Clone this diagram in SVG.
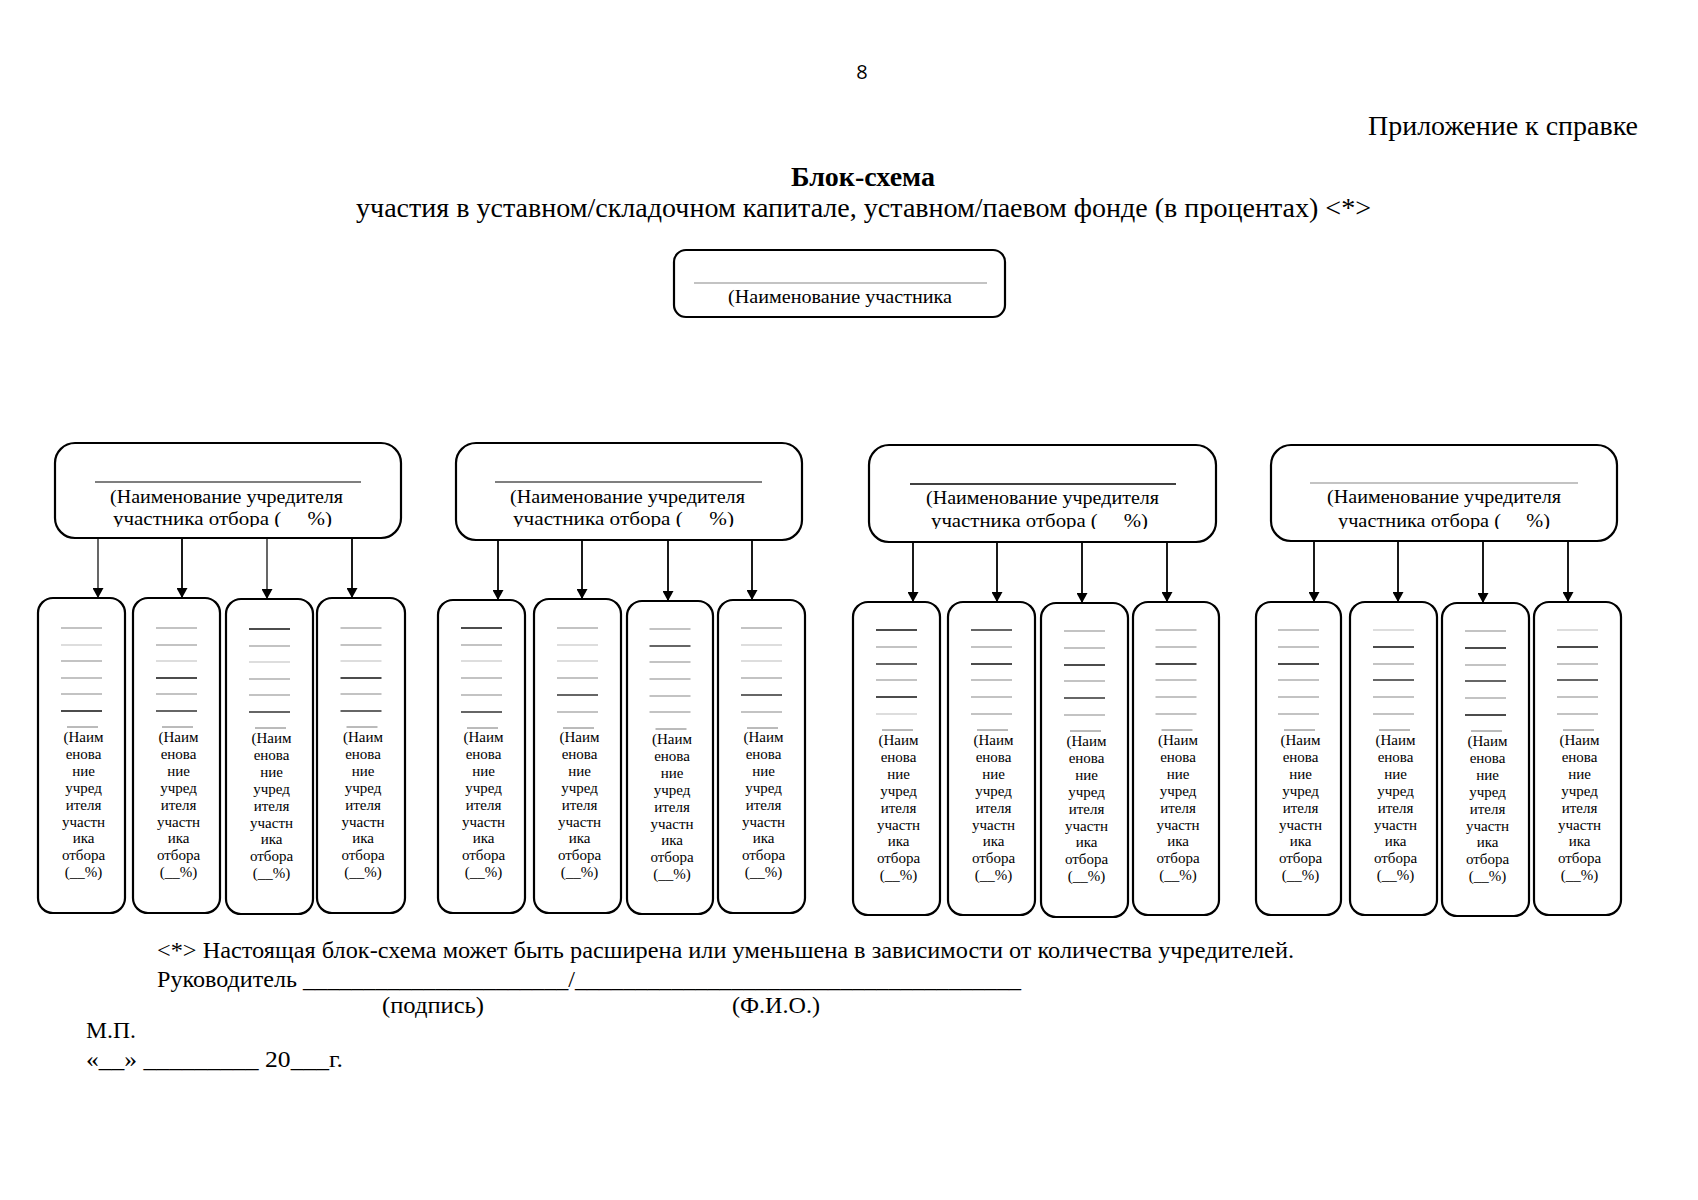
<svg xmlns="http://www.w3.org/2000/svg" width="1698" height="1200" viewBox="0 0 1698 1200">
<defs>
<style>
.t{font-family:"Liberation Serif","Times New Roman",serif;fill:#000}
.box{fill:#fff;stroke:#000;stroke-width:2.2}
.gl{stroke:#888;stroke-width:1.2}
.sm{font-size:15px;text-anchor:middle}
.bt{font-size:18px}
.a{stroke:#111;stroke-width:1.4}
.b{stroke:#888;stroke-width:1.2}
.c{stroke:#bbb;stroke-width:1.2}
.d{stroke:#666;stroke-width:2}
.ov{stroke:#777;stroke-width:1}
#connectors line{stroke:#000;stroke-width:1.8;marker-end:url(#ah)}
</style>
<marker id="ah" markerUnits="userSpaceOnUse" markerWidth="11" markerHeight="11" refX="10" refY="5.5" orient="auto">
<path d="M0,0 L10,5.5 L0,11 z" fill="#000"/>
</marker>
<clipPath id="c1" clipPathUnits="userSpaceOnUse"><rect x="55" y="443" width="346" height="84"/></clipPath>
<clipPath id="c2" clipPathUnits="userSpaceOnUse"><rect x="456" y="443" width="346" height="84"/></clipPath>
<clipPath id="c3" clipPathUnits="userSpaceOnUse"><rect x="869" y="445" width="347" height="84"/></clipPath>
<clipPath id="c4" clipPathUnits="userSpaceOnUse"><rect x="1271" y="445" width="346" height="84"/></clipPath>
</defs>
<rect x="0" y="0" width="1698" height="1200" fill="#fff"/>

<g id="header">
<text x="862" y="79" font-family="'Open Sans','DejaVu Sans',sans-serif" font-size="20" text-anchor="middle">8</text>
<text class="t" x="1368" y="135" font-size="27" textLength="270" lengthAdjust="spacingAndGlyphs">Приложение к справке</text>
<text class="t" x="863" y="186" font-size="28" font-weight="bold" text-anchor="middle">Блок-схема</text>
<text class="t" x="356" y="217" font-size="27" textLength="1015" lengthAdjust="spacingAndGlyphs">участия в уставном/складочном капитале, уставном/паевом фонде (в процентах) &lt;*&gt;</text>
</g>

<g id="participant">
<rect class="box" x="674" y="250" width="331" height="67" rx="12"/>
<line class="gl" x1="694" y1="283" x2="987" y2="283"/>
<text class="t bt" x="728" y="303" textLength="224" lengthAdjust="spacingAndGlyphs">(Наименование участника</text>
</g>

<g id="founder1">
<rect class="box" x="55" y="443" width="346" height="95" rx="20"/>
<line x1="95" y1="482" x2="361" y2="482" stroke="#000" stroke-width="1.2"/>
<text class="t bt" x="110" y="503" textLength="233" lengthAdjust="spacingAndGlyphs">(Наименование учредителя</text>
<text class="t bt" x="113" y="525" textLength="219" lengthAdjust="spacingAndGlyphs" clip-path="url(#c1)">участника отбора (&#160;&#160;&#160;&#160;&#160;%)</text>
</g>
<g id="founder2">
<rect class="box" x="456" y="443" width="346" height="97" rx="20"/>
<line x1="495" y1="482" x2="762" y2="482" stroke="#000" stroke-width="1.2"/>
<text class="t bt" x="510" y="503" textLength="235" lengthAdjust="spacingAndGlyphs">(Наименование учредителя</text>
<text class="t bt" x="513" y="525" textLength="221" lengthAdjust="spacingAndGlyphs" clip-path="url(#c2)">участника отбора (&#160;&#160;&#160;&#160;&#160;%)</text>
</g>
<g id="founder3">
<rect class="box" x="869" y="445" width="347" height="97" rx="20"/>
<line x1="910" y1="484" x2="1176" y2="484" stroke="#000" stroke-width="1.4"/>
<text class="t bt" x="926" y="504" textLength="233" lengthAdjust="spacingAndGlyphs">(Наименование учредителя</text>
<text class="t bt" x="931" y="527" textLength="217" lengthAdjust="spacingAndGlyphs" clip-path="url(#c3)">участника отбора (&#160;&#160;&#160;&#160;&#160;%)</text>
</g>
<g id="founder4">
<rect class="box" x="1271" y="445" width="346" height="96" rx="20"/>
<line class="gl" x1="1310" y1="483" x2="1578" y2="483"/>
<text class="t bt" x="1327" y="503" textLength="234" lengthAdjust="spacingAndGlyphs">(Наименование учредителя</text>
<text class="t bt" x="1338" y="527" textLength="212" lengthAdjust="spacingAndGlyphs" clip-path="url(#c4)">участника отбора (&#160;&#160;&#160;&#160;&#160;%)</text>
</g>

<g id="connectors">
<line x1="98" y1="538" x2="98" y2="598" style="stroke-width:1.2"/>
<line x1="182" y1="538" x2="182" y2="598"/>
<line x1="267" y1="538" x2="267" y2="599" style="stroke-width:1.2"/>
<line x1="352" y1="538" x2="352" y2="598"/>
<line x1="498" y1="540" x2="498" y2="600"/>
<line x1="582" y1="540" x2="582" y2="599"/>
<line x1="668" y1="540" x2="668" y2="601"/>
<line x1="752" y1="540" x2="752" y2="600"/>
<line x1="913" y1="542" x2="913" y2="602"/>
<line x1="997" y1="542" x2="997" y2="602"/>
<line x1="1082" y1="542" x2="1082" y2="603"/>
<line x1="1167" y1="542" x2="1167" y2="602"/>
<line x1="1314" y1="541" x2="1314" y2="602"/>
<line x1="1398" y1="541" x2="1398" y2="602"/>
<line x1="1483" y1="541" x2="1483" y2="603"/>
<line x1="1568" y1="541" x2="1568" y2="602"/>
</g>

<!-- group 1 sub boxes -->
<g id="g1b1">
<rect class="box" x="38" y="598" width="87" height="315" rx="15"/>
<line class="b" x1="61" y1="628" x2="102" y2="628"/><line class="c" x1="61" y1="645" x2="102" y2="645"/><line class="b" x1="61" y1="661" x2="102" y2="661"/><line class="b" x1="61" y1="678" x2="102" y2="678"/><line class="b" x1="61" y1="694" x2="102" y2="694"/><line class="a" x1="61" y1="711" x2="102" y2="711"/>
<line class="ov" x1="67" y1="727" x2="98" y2="727"/>
<text class="t sm" y="742"><tspan x="83.5">(Наим</tspan><tspan x="83.5" dy="16.9">енова</tspan><tspan x="83.5" dy="16.9">ние</tspan><tspan x="83.5" dy="16.9">учред</tspan><tspan x="83.5" dy="16.9">ителя</tspan><tspan x="83.5" dy="16.9">участн</tspan><tspan x="83.5" dy="16.9">ика</tspan><tspan x="83.5" dy="16.9">отбора</tspan><tspan x="83.5" dy="16.9">(__%)</tspan></text>
</g>
<g id="g1b2">
<rect class="box" x="133" y="598" width="87" height="315" rx="15"/>
<line class="b" x1="156" y1="628" x2="197" y2="628"/><line class="b" x1="156" y1="645" x2="197" y2="645"/><line class="c" x1="156" y1="661" x2="197" y2="661"/><line class="a" x1="156" y1="678" x2="197" y2="678"/><line class="b" x1="156" y1="694" x2="197" y2="694"/><line class="d" x1="156" y1="711" x2="197" y2="711"/>
<line class="ov" x1="162" y1="727" x2="193" y2="727"/>
<text class="t sm" y="742"><tspan x="178.5">(Наим</tspan><tspan x="178.5" dy="16.9">енова</tspan><tspan x="178.5" dy="16.9">ние</tspan><tspan x="178.5" dy="16.9">учред</tspan><tspan x="178.5" dy="16.9">ителя</tspan><tspan x="178.5" dy="16.9">участн</tspan><tspan x="178.5" dy="16.9">ика</tspan><tspan x="178.5" dy="16.9">отбора</tspan><tspan x="178.5" dy="16.9">(__%)</tspan></text>
</g>
<g id="g1b3">
<rect class="box" x="226" y="599" width="87" height="315" rx="15"/>
<line class="a" x1="249" y1="629" x2="290" y2="629"/><line class="b" x1="249" y1="646" x2="290" y2="646"/><line class="c" x1="249" y1="662" x2="290" y2="662"/><line class="b" x1="249" y1="679" x2="290" y2="679"/><line class="b" x1="249" y1="695" x2="290" y2="695"/><line class="d" x1="249" y1="712" x2="290" y2="712"/>
<line class="ov" x1="255" y1="728" x2="286" y2="728"/>
<text class="t sm" y="743"><tspan x="271.5">(Наим</tspan><tspan x="271.5" dy="16.9">енова</tspan><tspan x="271.5" dy="16.9">ние</tspan><tspan x="271.5" dy="16.9">учред</tspan><tspan x="271.5" dy="16.9">ителя</tspan><tspan x="271.5" dy="16.9">участн</tspan><tspan x="271.5" dy="16.9">ика</tspan><tspan x="271.5" dy="16.9">отбора</tspan><tspan x="271.5" dy="16.9">(__%)</tspan></text>
</g>
<g id="g1b4">
<rect class="box" x="317" y="598" width="88" height="315" rx="15"/>
<line class="b" x1="340.5" y1="628" x2="381.5" y2="628"/><line class="b" x1="340.5" y1="645" x2="381.5" y2="645"/><line class="c" x1="340.5" y1="661" x2="381.5" y2="661"/><line class="a" x1="340.5" y1="678" x2="381.5" y2="678"/><line class="b" x1="340.5" y1="694" x2="381.5" y2="694"/><line class="d" x1="340.5" y1="711" x2="381.5" y2="711"/>
<line class="ov" x1="346.5" y1="727" x2="377.5" y2="727"/>
<text class="t sm" y="742"><tspan x="363">(Наим</tspan><tspan x="363" dy="16.9">енова</tspan><tspan x="363" dy="16.9">ние</tspan><tspan x="363" dy="16.9">учред</tspan><tspan x="363" dy="16.9">ителя</tspan><tspan x="363" dy="16.9">участн</tspan><tspan x="363" dy="16.9">ика</tspan><tspan x="363" dy="16.9">отбора</tspan><tspan x="363" dy="16.9">(__%)</tspan></text>
</g>

<!-- group 2 sub boxes -->
<g id="g2b1">
<rect class="box" x="438" y="600" width="87" height="313" rx="15"/>
<line class="a" x1="461" y1="628" x2="502" y2="628"/><line class="b" x1="461" y1="645" x2="502" y2="645"/><line class="c" x1="461" y1="661" x2="502" y2="661"/><line class="b" x1="461" y1="678" x2="502" y2="678"/><line class="b" x1="461" y1="695" x2="502" y2="695"/><line class="d" x1="461" y1="712" x2="502" y2="712"/>
<line class="ov" x1="467" y1="728" x2="498" y2="728"/>
<text class="t sm" y="742"><tspan x="483.5">(Наим</tspan><tspan x="483.5" dy="16.9">енова</tspan><tspan x="483.5" dy="16.9">ние</tspan><tspan x="483.5" dy="16.9">учред</tspan><tspan x="483.5" dy="16.9">ителя</tspan><tspan x="483.5" dy="16.9">участн</tspan><tspan x="483.5" dy="16.9">ика</tspan><tspan x="483.5" dy="16.9">отбора</tspan><tspan x="483.5" dy="16.9">(__%)</tspan></text>
</g>
<g id="g2b2">
<rect class="box" x="534" y="599" width="87" height="314" rx="15"/>
<line class="b" x1="557" y1="628" x2="598" y2="628"/><line class="c" x1="557" y1="645" x2="598" y2="645"/><line class="c" x1="557" y1="661" x2="598" y2="661"/><line class="b" x1="557" y1="678" x2="598" y2="678"/><line class="d" x1="557" y1="695" x2="598" y2="695"/><line class="b" x1="557" y1="712" x2="598" y2="712"/>
<line class="ov" x1="563" y1="728" x2="594" y2="728"/>
<text class="t sm" y="742"><tspan x="579.5">(Наим</tspan><tspan x="579.5" dy="16.9">енова</tspan><tspan x="579.5" dy="16.9">ние</tspan><tspan x="579.5" dy="16.9">учред</tspan><tspan x="579.5" dy="16.9">ителя</tspan><tspan x="579.5" dy="16.9">участн</tspan><tspan x="579.5" dy="16.9">ика</tspan><tspan x="579.5" dy="16.9">отбора</tspan><tspan x="579.5" dy="16.9">(__%)</tspan></text>
</g>
<g id="g2b3">
<rect class="box" x="627" y="601" width="86" height="313" rx="15"/>
<line class="b" x1="649.5" y1="629" x2="690.5" y2="629"/><line class="d" x1="649.5" y1="646" x2="690.5" y2="646"/><line class="b" x1="649.5" y1="662" x2="690.5" y2="662"/><line class="b" x1="649.5" y1="679" x2="690.5" y2="679"/><line class="b" x1="649.5" y1="696" x2="690.5" y2="696"/><line class="b" x1="649.5" y1="712" x2="690.5" y2="712"/>
<line class="ov" x1="655.5" y1="729" x2="686.5" y2="729"/>
<text class="t sm" y="744"><tspan x="672">(Наим</tspan><tspan x="672" dy="16.9">енова</tspan><tspan x="672" dy="16.9">ние</tspan><tspan x="672" dy="16.9">учред</tspan><tspan x="672" dy="16.9">ителя</tspan><tspan x="672" dy="16.9">участн</tspan><tspan x="672" dy="16.9">ика</tspan><tspan x="672" dy="16.9">отбора</tspan><tspan x="672" dy="16.9">(__%)</tspan></text>
</g>
<g id="g2b4">
<rect class="box" x="718" y="600" width="87" height="313" rx="15"/>
<line class="b" x1="741" y1="628" x2="782" y2="628"/><line class="c" x1="741" y1="645" x2="782" y2="645"/><line class="c" x1="741" y1="661" x2="782" y2="661"/><line class="b" x1="741" y1="678" x2="782" y2="678"/><line class="d" x1="741" y1="695" x2="782" y2="695"/><line class="b" x1="741" y1="712" x2="782" y2="712"/>
<line class="ov" x1="747" y1="728" x2="778" y2="728"/>
<text class="t sm" y="742"><tspan x="763.5">(Наим</tspan><tspan x="763.5" dy="16.9">енова</tspan><tspan x="763.5" dy="16.9">ние</tspan><tspan x="763.5" dy="16.9">учред</tspan><tspan x="763.5" dy="16.9">ителя</tspan><tspan x="763.5" dy="16.9">участн</tspan><tspan x="763.5" dy="16.9">ика</tspan><tspan x="763.5" dy="16.9">отбора</tspan><tspan x="763.5" dy="16.9">(__%)</tspan></text>
</g>

<!-- group 3 sub boxes -->
<g id="g3b1">
<rect class="box" x="853" y="602" width="87" height="313" rx="15"/>
<line class="a" x1="876" y1="630" x2="917" y2="630"/><line class="b" x1="876" y1="647" x2="917" y2="647"/><line class="d" x1="876" y1="664" x2="917" y2="664"/><line class="b" x1="876" y1="680" x2="917" y2="680"/><line class="a" x1="876" y1="697" x2="917" y2="697"/><line class="c" x1="876" y1="714" x2="917" y2="714"/>
<line class="ov" x1="882" y1="730" x2="913" y2="730"/>
<text class="t sm" y="745"><tspan x="898.5">(Наим</tspan><tspan x="898.5" dy="16.9">енова</tspan><tspan x="898.5" dy="16.9">ние</tspan><tspan x="898.5" dy="16.9">учред</tspan><tspan x="898.5" dy="16.9">ителя</tspan><tspan x="898.5" dy="16.9">участн</tspan><tspan x="898.5" dy="16.9">ика</tspan><tspan x="898.5" dy="16.9">отбора</tspan><tspan x="898.5" dy="16.9">(__%)</tspan></text>
</g>
<g id="g3b2">
<rect class="box" x="948" y="602" width="87" height="313" rx="15"/>
<line class="d" x1="971" y1="630" x2="1012" y2="630"/><line class="b" x1="971" y1="647" x2="1012" y2="647"/><line class="a" x1="971" y1="664" x2="1012" y2="664"/><line class="b" x1="971" y1="680" x2="1012" y2="680"/><line class="b" x1="971" y1="697" x2="1012" y2="697"/><line class="b" x1="971" y1="714" x2="1012" y2="714"/>
<line class="ov" x1="977" y1="730" x2="1008" y2="730"/>
<text class="t sm" y="745"><tspan x="993.5">(Наим</tspan><tspan x="993.5" dy="16.9">енова</tspan><tspan x="993.5" dy="16.9">ние</tspan><tspan x="993.5" dy="16.9">учред</tspan><tspan x="993.5" dy="16.9">ителя</tspan><tspan x="993.5" dy="16.9">участн</tspan><tspan x="993.5" dy="16.9">ика</tspan><tspan x="993.5" dy="16.9">отбора</tspan><tspan x="993.5" dy="16.9">(__%)</tspan></text>
</g>
<g id="g3b3">
<rect class="box" x="1041" y="603" width="87" height="314" rx="15"/>
<line class="b" x1="1064" y1="631" x2="1105" y2="631"/><line class="b" x1="1064" y1="648" x2="1105" y2="648"/><line class="a" x1="1064" y1="665" x2="1105" y2="665"/><line class="b" x1="1064" y1="681" x2="1105" y2="681"/><line class="d" x1="1064" y1="698" x2="1105" y2="698"/><line class="b" x1="1064" y1="715" x2="1105" y2="715"/>
<line class="ov" x1="1070" y1="731" x2="1101" y2="731"/>
<text class="t sm" y="746"><tspan x="1086.5">(Наим</tspan><tspan x="1086.5" dy="16.9">енова</tspan><tspan x="1086.5" dy="16.9">ние</tspan><tspan x="1086.5" dy="16.9">учред</tspan><tspan x="1086.5" dy="16.9">ителя</tspan><tspan x="1086.5" dy="16.9">участн</tspan><tspan x="1086.5" dy="16.9">ика</tspan><tspan x="1086.5" dy="16.9">отбора</tspan><tspan x="1086.5" dy="16.9">(__%)</tspan></text>
</g>
<g id="g3b4">
<rect class="box" x="1133" y="602" width="86" height="313" rx="15"/>
<line class="b" x1="1155.5" y1="630" x2="1196.5" y2="630"/><line class="b" x1="1155.5" y1="647" x2="1196.5" y2="647"/><line class="a" x1="1155.5" y1="664" x2="1196.5" y2="664"/><line class="b" x1="1155.5" y1="680" x2="1196.5" y2="680"/><line class="b" x1="1155.5" y1="697" x2="1196.5" y2="697"/><line class="b" x1="1155.5" y1="714" x2="1196.5" y2="714"/>
<line class="ov" x1="1161.5" y1="730" x2="1192.5" y2="730"/>
<text class="t sm" y="745"><tspan x="1178">(Наим</tspan><tspan x="1178" dy="16.9">енова</tspan><tspan x="1178" dy="16.9">ние</tspan><tspan x="1178" dy="16.9">учред</tspan><tspan x="1178" dy="16.9">ителя</tspan><tspan x="1178" dy="16.9">участн</tspan><tspan x="1178" dy="16.9">ика</tspan><tspan x="1178" dy="16.9">отбора</tspan><tspan x="1178" dy="16.9">(__%)</tspan></text>
</g>

<!-- group 4 sub boxes -->
<g id="g4b1">
<rect class="box" x="1256" y="602" width="85" height="313" rx="15"/>
<line class="b" x1="1278" y1="630" x2="1319" y2="630"/><line class="b" x1="1278" y1="647" x2="1319" y2="647"/><line class="a" x1="1278" y1="664" x2="1319" y2="664"/><line class="b" x1="1278" y1="680" x2="1319" y2="680"/><line class="b" x1="1278" y1="697" x2="1319" y2="697"/><line class="b" x1="1278" y1="714" x2="1319" y2="714"/>
<line class="ov" x1="1284" y1="730" x2="1315" y2="730"/>
<text class="t sm" y="745"><tspan x="1300.5">(Наим</tspan><tspan x="1300.5" dy="16.9">енова</tspan><tspan x="1300.5" dy="16.9">ние</tspan><tspan x="1300.5" dy="16.9">учред</tspan><tspan x="1300.5" dy="16.9">ителя</tspan><tspan x="1300.5" dy="16.9">участн</tspan><tspan x="1300.5" dy="16.9">ика</tspan><tspan x="1300.5" dy="16.9">отбора</tspan><tspan x="1300.5" dy="16.9">(__%)</tspan></text>
</g>
<g id="g4b2">
<rect class="box" x="1350" y="602" width="87" height="313" rx="15"/>
<line class="c" x1="1373" y1="630" x2="1414" y2="630"/><line class="a" x1="1373" y1="647" x2="1414" y2="647"/><line class="b" x1="1373" y1="664" x2="1414" y2="664"/><line class="d" x1="1373" y1="680" x2="1414" y2="680"/><line class="b" x1="1373" y1="697" x2="1414" y2="697"/><line class="b" x1="1373" y1="714" x2="1414" y2="714"/>
<line class="ov" x1="1379" y1="730" x2="1410" y2="730"/>
<text class="t sm" y="745"><tspan x="1395.5">(Наим</tspan><tspan x="1395.5" dy="16.9">енова</tspan><tspan x="1395.5" dy="16.9">ние</tspan><tspan x="1395.5" dy="16.9">учред</tspan><tspan x="1395.5" dy="16.9">ителя</tspan><tspan x="1395.5" dy="16.9">участн</tspan><tspan x="1395.5" dy="16.9">ика</tspan><tspan x="1395.5" dy="16.9">отбора</tspan><tspan x="1395.5" dy="16.9">(__%)</tspan></text>
</g>
<g id="g4b3">
<rect class="box" x="1442" y="603" width="87" height="313" rx="15"/>
<line class="b" x1="1465" y1="631" x2="1506" y2="631"/><line class="a" x1="1465" y1="648" x2="1506" y2="648"/><line class="b" x1="1465" y1="665" x2="1506" y2="665"/><line class="d" x1="1465" y1="681" x2="1506" y2="681"/><line class="b" x1="1465" y1="698" x2="1506" y2="698"/><line class="a" x1="1465" y1="715" x2="1506" y2="715"/>
<line class="ov" x1="1471" y1="731" x2="1502" y2="731"/>
<text class="t sm" y="746"><tspan x="1487.5">(Наим</tspan><tspan x="1487.5" dy="16.9">енова</tspan><tspan x="1487.5" dy="16.9">ние</tspan><tspan x="1487.5" dy="16.9">учред</tspan><tspan x="1487.5" dy="16.9">ителя</tspan><tspan x="1487.5" dy="16.9">участн</tspan><tspan x="1487.5" dy="16.9">ика</tspan><tspan x="1487.5" dy="16.9">отбора</tspan><tspan x="1487.5" dy="16.9">(__%)</tspan></text>
</g>
<g id="g4b4">
<rect class="box" x="1534" y="602" width="87" height="313" rx="15"/>
<line class="c" x1="1557" y1="630" x2="1598" y2="630"/><line class="a" x1="1557" y1="647" x2="1598" y2="647"/><line class="b" x1="1557" y1="664" x2="1598" y2="664"/><line class="d" x1="1557" y1="680" x2="1598" y2="680"/><line class="b" x1="1557" y1="697" x2="1598" y2="697"/><line class="b" x1="1557" y1="714" x2="1598" y2="714"/>
<line class="ov" x1="1563" y1="730" x2="1594" y2="730"/>
<text class="t sm" y="745"><tspan x="1579.5">(Наим</tspan><tspan x="1579.5" dy="16.9">енова</tspan><tspan x="1579.5" dy="16.9">ние</tspan><tspan x="1579.5" dy="16.9">учред</tspan><tspan x="1579.5" dy="16.9">ителя</tspan><tspan x="1579.5" dy="16.9">участн</tspan><tspan x="1579.5" dy="16.9">ика</tspan><tspan x="1579.5" dy="16.9">отбора</tspan><tspan x="1579.5" dy="16.9">(__%)</tspan></text>
</g>

<g id="footer">
<text class="t" x="157" y="958" font-size="24" textLength="1137" lengthAdjust="spacingAndGlyphs">&lt;*&gt; Настоящая блок-схема может быть расширена или уменьшена в зависимости от количества учредителей.</text>
<text class="t" x="157" y="987" font-size="24" textLength="864" lengthAdjust="spacingAndGlyphs">Руководитель ______________________/_____________________________________</text>
<text class="t" x="382" y="1013" font-size="24" textLength="102" lengthAdjust="spacingAndGlyphs">(подпись)</text>
<text class="t" x="732" y="1013" font-size="24" textLength="88" lengthAdjust="spacingAndGlyphs">(Ф.И.О.)</text>
<text class="t" x="86" y="1038" font-size="24" textLength="50" lengthAdjust="spacingAndGlyphs">М.П.</text>
<text class="t" x="86" y="1067" font-size="24" textLength="257" lengthAdjust="spacingAndGlyphs">«__» _________ 20___г.</text>
</g>
</svg>
